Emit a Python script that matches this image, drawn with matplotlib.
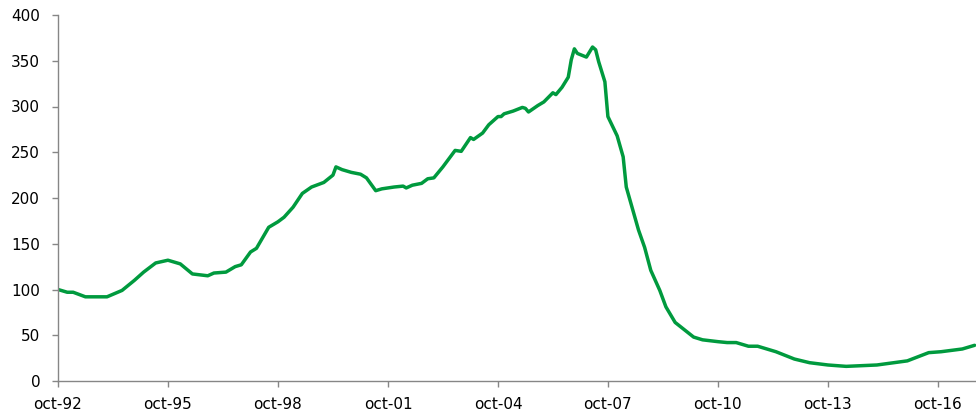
import pandas as pd
import matplotlib
matplotlib.use("Agg")
import matplotlib.pyplot as plt

# ── data ─────────────────────────────────────────────────────────
dates = [
    "1992-10", "1993-01", "1993-03", "1993-07", "1994-02", "1994-07", "1994-11",
    "1995-02", "1995-06", "1995-10", "1996-02", "1996-06", "1996-11", "1997-01",
    "1997-05", "1997-08", "1997-10", "1998-01", "1998-03", "1998-07", "1998-10",
    "1998-12", "1999-03", "1999-06", "1999-09", "2000-01", "2000-04", "2000-05",
    "2000-07", "2000-10", "2001-01", "2001-03", "2001-06", "2001-08", "2001-12",
    "2002-03", "2002-04", "2002-06", "2002-09", "2002-11", "2003-01", "2003-04",
    "2003-08", "2003-10", "2004-01", "2004-02", "2004-05", "2004-07", "2004-10",
    "2004-11", "2004-12", "2005-03", "2005-06", "2005-07", "2005-08", "2005-11",
    "2006-01", "2006-04", "2006-05", "2006-07", "2006-09", "2006-10", "2006-11",
    "2006-12", "2007-03", "2007-05", "2007-06", "2007-07", "2007-09", "2007-10",
    "2008-01", "2008-03", "2008-04", "2008-08", "2008-10", "2008-12", "2009-03",
    "2009-05", "2009-08", "2010-02", "2010-05", "2010-10", "2011-01", "2011-04",
    "2011-08", "2011-11", "2012-05", "2012-11", "2013-04", "2013-10", "2014-04",
    "2015-02", "2015-12", "2016-07", "2016-11", "2017-06", "2017-10",
]
values = [
    100, 97, 97, 92, 92, 99, 110,
    119, 129, 132, 128, 117, 115, 118,
    119, 125, 127, 141, 145, 168, 174,
    179, 190, 205, 212, 217, 225, 234,
    231, 228, 226, 222, 208, 210, 212,
    213, 211, 214, 216, 221, 222, 234,
    252, 251, 266, 264, 271, 280, 289,
    289, 292, 295, 299, 298, 294, 301,
    305, 315, 313, 321, 332, 351, 363,
    358, 354, 365, 362, 349, 327, 289,
    268, 245, 212, 165, 146, 121, 99,
    81, 64, 48, 45, 43, 42, 42,
    38, 38, 32, 24, 20, 17.5, 16,
    17.5, 22, 31, 32, 35, 39,
]
tick_years = list(range(1992, 2017, 3))
tick_labels = [f"oct-{y % 100:02d}" for y in tick_years]

GREEN = "#009A3E"
GREY = "#868686"

df = pd.DataFrame({"date": pd.to_datetime(dates), "value": values})

fig = plt.figure(figsize=(9.76, 4.16), dpi=100)
ax = fig.add_axes([58 / 976, 1 - 381 / 416, 1 - 58 / 976, (381 - 15) / 416])

ax.plot(df["date"], df["value"], color=GREEN, lw=2.5, solid_capstyle="round")

ax.set_ylim(0, 400)
ax.set_yticks(range(0, 401, 50))
ax.set_xlim(pd.Timestamp("1992-10-01"), pd.Timestamp("2017-10-15"))
ax.set_xticks([pd.Timestamp(f"{y}-10-01") for y in tick_years])
ax.set_xticklabels(tick_labels)

for s in ["top", "right"]:
    ax.spines[s].set_visible(False)
for s in ["left", "bottom"]:
    ax.spines[s].set_color(GREY)
    ax.spines[s].set_linewidth(1)
ax.tick_params(axis="both", direction="out", length=4.3, color=GREY, width=1,
               labelsize=11, labelcolor="black")
ax.tick_params(axis="y", pad=8.5)
ax.tick_params(axis="x", pad=7.5)

fig.savefig("out.png", dpi=100)
